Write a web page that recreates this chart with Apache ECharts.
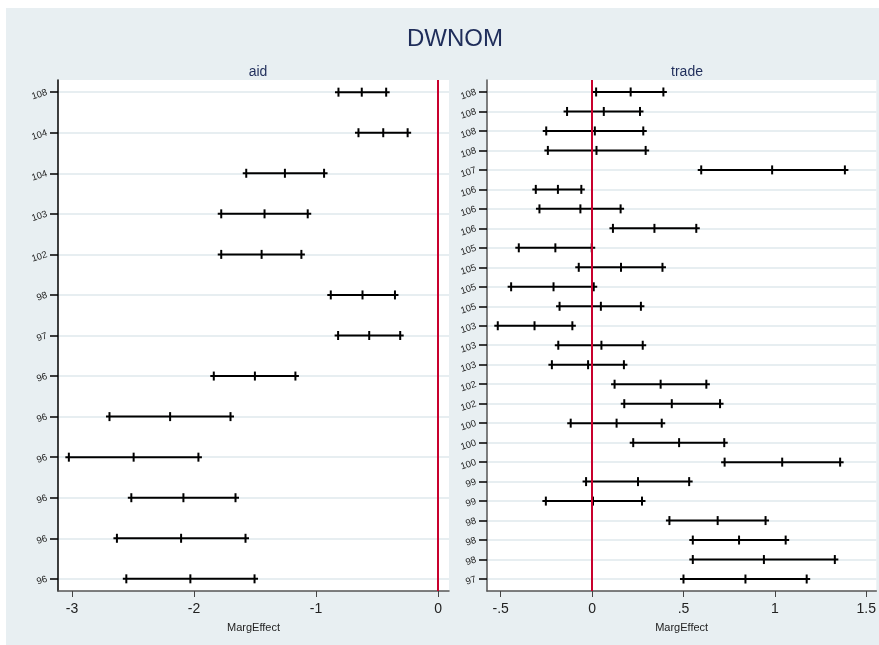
<!DOCTYPE html>
<html>
<head>
<meta charset="utf-8">
<script src="https://cdn.jsdelivr.net/npm/echarts@6/dist/echarts.min.js"></script>
<style>
  html, body { margin: 0; padding: 0; background: #fff; }
  #chart { position: absolute; left: 6px; top: 8px; width: 873px; height: 637px; }
</style>
</head>
<body>
<div id="chart"></div>
<script>
// aid panel (top to bottom)
const aidLabels = ['108', '104', '104', '103', '102', '98', '97', '96', '96', '96', '96', '96', '96'];
const aidLo  = [-0.816, -0.652, -1.572, -1.777, -1.777, -0.879, -0.819, -1.838, -2.693, -3.026, -2.514, -2.632, -2.555];
const aidMid = [-0.625, -0.449, -1.255, -1.422, -1.446, -0.619, -0.564, -1.501, -2.196, -2.495, -2.087, -2.106, -2.030];
const aidHi  = [-0.425, -0.249, -0.934, -1.068, -1.120, -0.353, -0.310, -1.169, -1.701, -1.964, -1.660, -1.578, -1.504];

// trade panel (top to bottom)
const tradeLabels = ['108', '108', '108', '108', '107', '106', '106', '106', '105', '105', '105', '105', '103',
  '103', '103', '102', '102', '100', '100', '100', '99', '99', '98', '98', '98', '97'];
const tradeLo  = [0.022, -0.137, -0.251, -0.242, 0.597, -0.308, -0.288, 0.114, -0.401, -0.073, -0.443, -0.178, -0.516,
  -0.185, -0.220, 0.123, 0.176, -0.117, 0.225, 0.725, -0.033, -0.253, 0.423, 0.551, 0.551, 0.500];
const tradeMid = [0.211, 0.064, 0.015, 0.024, 0.985, -0.187, -0.064, 0.341, -0.201, 0.158, -0.211, 0.048, -0.315,
  0.051, -0.022, 0.375, 0.436, 0.134, 0.476, 1.040, 0.251, 0.005, 0.687, 0.804, 0.940, 0.839];
const tradeHi  = [0.390, 0.262, 0.280, 0.293, 1.383, -0.059, 0.156, 0.570, -0.002, 0.385, 0.009, 0.267, -0.108,
  0.277, 0.174, 0.625, 0.700, 0.381, 0.723, 1.357, 0.531, 0.273, 0.949, 1.059, 1.328, 1.174];

const aidTicks = [-3, -2, -1, 0];
const tradeTicks = [-0.5, 0, 0.5, 1, 1.5];

const FONT = 'Liberation Sans, Arial, Helvetica, sans-serif';
const BG = '#e8eff2';
const GRIDLINE = '#dfe8ec';
const NAVY = '#1f2d5a';

const chart = echarts.init(document.getElementById('chart'));

// horizontal CI bar with "+" marks at lo, mid and hi
function renderBar(params, api) {
  const y = api.value(0);
  const lo = api.coord([api.value(1), y]);
  const mid = api.coord([api.value(2), y]);
  const hi = api.coord([api.value(3), y]);
  const h = 4.5;
  const st = { stroke: '#000', lineWidth: 2 };
  const tick = p => ({ type: 'line', shape: { x1: p[0], y1: p[1] - h, x2: p[0], y2: p[1] + h }, style: st });
  return {
    type: 'group',
    children: [
      { type: 'line', shape: { x1: lo[0] - 3.5, y1: lo[1], x2: hi[0] + 3.5, y2: hi[1] }, style: st },
      tick(lo), tick(mid), tick(hi)
    ]
  };
}

function rows(lo, mid, hi) {
  return lo.map((v, i) => [i, v, mid[i], hi[i]]);
}

function range(n) {
  return Array.from({ length: n }, (_, i) => i);
}

function yAxis(idx, labels, pad, lineColor) {
  return {
    type: 'value',
    gridIndex: idx,
    inverse: true,
    min: -pad,
    max: labels.length - 1 + pad,
    axisLine: { show: true, onZero: false, lineStyle: { color: lineColor, width: 1.5 } },
    axisTick: { show: true, inside: false, length: 8, customValues: range(labels.length), lineStyle: { color: '#000', width: 1.5 } },
    axisLabel: {
      customValues: range(labels.length),
      formatter: v => labels[v],
      rotate: 18,
      margin: 11,
      fontSize: 9.5,
      color: '#222',
      fontFamily: FONT
    },
    splitLine: { show: true, lineStyle: { color: GRIDLINE, width: 1.5 } }
  };
}

function xAxis(idx, min, max, ticks, fmt) {
  return {
    type: 'value',
    gridIndex: idx,
    min: min,
    max: max,
    name: 'MargEffect',
    nameLocation: 'middle',
    nameGap: 31,
    nameTextStyle: { fontSize: 11, color: '#222', fontFamily: FONT },
    axisLine: { show: true, onZero: false, lineStyle: { color: '#555', width: 1.5 } },
    axisTick: { show: true, length: 6, customValues: ticks, lineStyle: { color: '#444' } },
    axisLabel: {
      customValues: ticks,
      formatter: fmt,
      margin: 11,
      fontSize: 14,
      color: '#222',
      fontFamily: FONT
    },
    splitLine: { show: false }
  };
}

const zeroLine = {
  silent: true,
  symbol: 'none',
  label: { show: false },
  lineStyle: { color: '#c8002d', width: 2, type: 'solid' },
  data: [{ xAxis: 0 }]
};

const option = {
  backgroundColor: BG,
  animation: false,
  title: [
    { text: 'DWNOM', left: 444, top: 14, textAlign: 'center',
      textStyle: { fontSize: 24, fontWeight: 'normal', color: NAVY, fontFamily: FONT } },
    { text: 'aid', left: 247, top: 52, textAlign: 'center',
      textStyle: { fontSize: 14, fontWeight: 'normal', color: NAVY, fontFamily: FONT } },
    { text: 'trade', left: 676, top: 52, textAlign: 'center',
      textStyle: { fontSize: 14, fontWeight: 'normal', color: NAVY, fontFamily: FONT } }
  ],
  grid: [
    { left: 52, top: 72, width: 391, height: 511, show: true, backgroundColor: '#fff', borderWidth: 0 },
    { left: 481, top: 72, width: 390, height: 511, show: true, backgroundColor: '#fff', borderWidth: 0 }
  ],
  xAxis: [
    xAxis(0, -3.115, 0.09, aidTicks, v => String(v)),
    xAxis(1, -0.575, 1.555, tradeTicks, v => String(v).replace('0.', '.'))
  ],
  yAxis: [
    yAxis(0, aidLabels, 0.3, '#000'),
    yAxis(1, tradeLabels, 0.615, '#555')
  ],
  series: [
    {
      type: 'custom',
      xAxisIndex: 0,
      yAxisIndex: 0,
      renderItem: renderBar,
      encode: { x: [1, 2, 3], y: 0 },
      data: rows(aidLo, aidMid, aidHi),
      markLine: zeroLine,
      z: 3
    },
    {
      type: 'custom',
      xAxisIndex: 1,
      yAxisIndex: 1,
      renderItem: renderBar,
      encode: { x: [1, 2, 3], y: 0 },
      data: rows(tradeLo, tradeMid, tradeHi),
      markLine: zeroLine,
      z: 3
    }
  ]
};

chart.setOption(option);
</script>
</body>
</html>
